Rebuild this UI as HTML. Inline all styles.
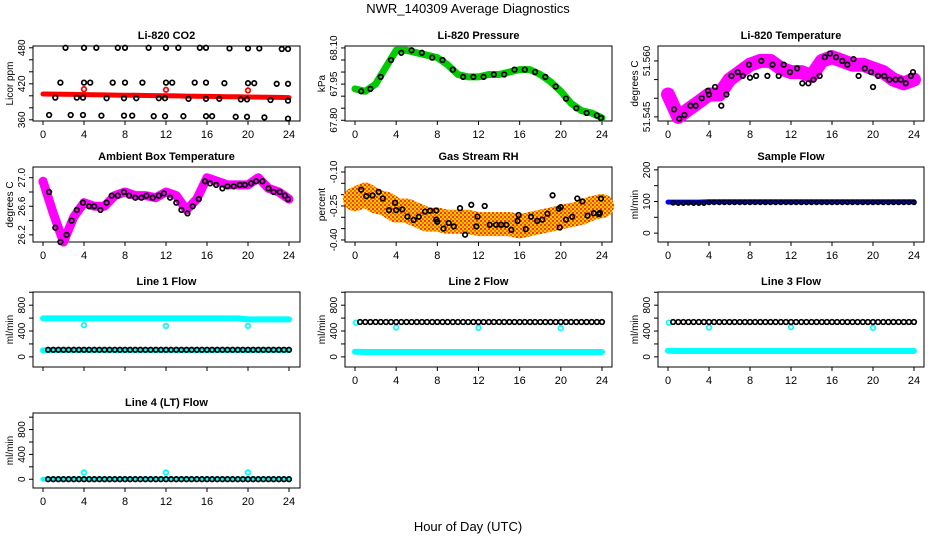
<!DOCTYPE html>
<html><head><meta charset="utf-8"><style>
html,body{margin:0;padding:0;background:#fff}
svg{display:block;font-family:"Liberation Sans",sans-serif}
</style></head><body>
<svg id="c" width="936" height="540" viewBox="0 0 936 540" xmlns="http://www.w3.org/2000/svg">
<defs>
<pattern id="rhpat" width="4" height="4" patternUnits="userSpaceOnUse">
<rect width="4" height="4" fill="#ffcc00"/><rect width="2" height="2" fill="#ff3300"/><rect x="2" y="2" width="2" height="2" fill="#ff6600"/>
</pattern>
</defs>
<text x="468" y="13" text-anchor="middle" font-size="13">NWR_140309  Average Diagnostics</text>
<text x="468" y="531" text-anchor="middle" font-size="13">Hour of Day (UTC)</text>
</svg>
<script>
// ---- data ----
const hours = [0,1,2,3,4,5,6,7,8,9,10,11,12,13,14,15,16,17,18,19,20,21,22,23,24];
const co2Red = [403,402.8,402.5,402.3,402,401.7,401.5,401.2,401,400.8,400.5,400.3,400,399.8,399.5,399.3,399,398.8,398.5,398.3,398,397.8,397.5,397.3,397];
const co2RedOutHours = [4,12,20];
const co2RedOutVals = [411,410,409];
const co2BlackHours = [2.2,4.0,5.2,7.3,8.0,10.3,12.0,13.2,15.3,15.9,18.2,20.0,21.1,23.3,23.9,
 1.7,4.0,4.6,6.8,8.0,9.7,12.0,12.6,14.8,15.9,17.7,20.0,20.6,22.8,23.9,
 1.2,3.3,3.9,6.2,7.9,9.1,11.3,11.9,14.2,15.9,17.2,19.3,19.9,22.2,23.9,
 0.6,2.7,3.9,5.7,7.9,8.7,10.8,11.9,13.7,15.9,16.5,18.8,19.9,21.6,23.9];
const co2BlackVals = [480,480,480,480,480,480,480,480,480,480,479,479,479,478,478,
 422,422,422,422,422,422,422,422,422,422,421,421,421,420,420,
 397,397,397,396,396,396,396,396,395,395,395,394,394,393,392,
 368,368,368,367,367,367,366,366,366,366,366,365,365,364,362];
const presGreen = [67.93,67.92,67.95,68.02,68.09,68.09,68.08,68.07,68.06,68.03,67.99,67.98,67.98,67.99,67.99,68.00,68.01,68.01,67.99,67.96,67.92,67.87,67.84,67.83,67.81];
const presBlackHours = [0.6,1.5,2.5,3.5,4.5,5.5,6.5,7.5,8.5,9.5,10.5,11.5,12.5,13.5,14.5,15.5,16.5,17.5,18.5,19.5,20.5,21.5,22.5,23.5,23.9];
const presBlackVals = [67.92,67.93,67.98,68.05,68.08,68.09,68.08,68.06,68.05,68.01,67.98,67.98,67.98,67.99,67.99,68.01,68.01,68.00,67.98,67.94,67.89,67.85,67.83,67.82,67.81];
const tempMag = [51.551,51.545,51.547,51.549,51.551,51.551,51.555,51.557,51.559,51.560,51.560,51.558,51.557,51.557,51.556,51.560,51.561,51.560,51.559,51.559,51.558,51.557,51.555,51.554,51.555];
const tempBlackHours = [0.6,1.1,1.6,2.2,2.7,3.3,3.9,4.0,4.6,5.2,5.7,6.2,6.8,7.3,7.9,8.0,8.6,9.1,9.7,10.2,10.8,11.3,11.9,12.6,13.1,13.7,14.2,14.8,15.3,15.8,16.4,17.0,17.5,18.1,18.6,19.2,19.8,20.0,20.5,21.1,21.6,22.2,22.7,23.2,23.7,23.9];
const tempBlackVals = [51.547,51.5445,51.5455,51.548,51.548,51.550,51.552,51.551,51.553,51.548,51.551,51.556,51.557,51.556,51.559,51.5555,51.556,51.560,51.556,51.559,51.556,51.559,51.557,51.558,51.554,51.554,51.555,51.556,51.561,51.562,51.561,51.560,51.559,51.5605,51.556,51.558,51.557,51.553,51.556,51.556,51.555,51.555,51.555,51.554,51.556,51.557];
const ambMag = [26.95,26.5,26.1,26.45,26.65,26.6,26.6,26.75,26.8,26.75,26.75,26.72,26.8,26.75,26.55,26.7,27.0,26.95,26.9,26.9,26.9,27.0,26.85,26.8,26.7];
const ambBlackHours = [0.6,1.2,1.7,2.3,2.8,3.3,3.9,4.5,5.0,5.6,6.2,6.7,7.3,7.9,8.4,9.0,9.6,10.1,10.7,11.3,11.8,12.4,13.0,13.5,14.1,14.6,15.2,15.8,16.3,16.9,17.5,18.0,18.6,19.2,19.7,20.3,20.8,21.4,22.0,22.5,23.1,23.6,23.9];
const ambBlackVals = [26.8,26.3,26.1,26.2,26.4,26.55,26.65,26.6,26.6,26.55,26.65,26.75,26.75,26.8,26.75,26.72,26.72,26.75,26.72,26.75,26.78,26.72,26.65,26.55,26.5,26.6,26.7,26.95,26.92,26.9,26.85,26.88,26.88,26.9,26.9,26.92,26.95,26.95,26.85,26.8,26.8,26.75,26.7];
const rhBand = [-0.22,-0.20,-0.23,-0.24,-0.27,-0.27,-0.29,-0.31,-0.31,-0.32,-0.32,-0.32,-0.33,-0.33,-0.33,-0.33,-0.34,-0.33,-0.32,-0.31,-0.30,-0.29,-0.28,-0.26,-0.25];
const rhBlackHours = [0.6,1.1,1.7,2.3,2.7,3.3,3.9,4.0,4.6,5.1,5.7,6.2,6.8,7.3,7.9,7.9,8.0,8.6,9.1,9.6,10.2,10.7,11.3,11.8,11.9,12.6,13.1,13.7,14.2,14.7,15.2,15.8,15.9,16.6,17.1,17.7,18.2,18.7,19.2,19.8,19.9,20.0,20.5,21.1,21.6,22.1,22.6,23.2,23.7,23.9,23.8];
const rhBlackVals = [-0.178,-0.207,-0.204,-0.188,-0.217,-0.268,-0.236,-0.268,-0.265,-0.297,-0.312,-0.298,-0.275,-0.271,-0.27,-0.31,-0.32,-0.35,-0.325,-0.34,-0.26,-0.377,-0.245,-0.34,-0.297,-0.25,-0.333,-0.333,-0.333,-0.333,-0.355,-0.316,-0.29,-0.352,-0.298,-0.316,-0.31,-0.284,-0.203,-0.262,-0.345,-0.255,-0.31,-0.298,-0.217,-0.23,-0.293,-0.282,-0.286,-0.217,-0.28];
const flowHours = [0.5,1,1.5,2,2.5,3,3.5,4,4.5,5,5.5,6,6.5,7,7.5,8,8.5,9,9.5,10,10.5,11,11.5,12,12.5,13,13.5,14,14.5,15,15.5,16,16.5,17,17.5,18,18.5,19,19.5,20,20.5,21,21.5,22,22.5,23,23.5,24];
const sampleBlue = [98,98,98,98,99,99,99,99,99,99,99,99,99,99,99,99,99,99,99,99,99,99,99,99,99];
const sampleBlack = [96,95,95,96,95,95,95,97,97,97,97,97,97,97,97,97,97,97,97,97,97,97,97,97,97,97,97,97,97,97,97,97,97,97,97,97,97,97,97,97,97,97,97,97,97,97,97,97];
const line1Cyan = [595,595,595,595,595,595,595,595,595,595,595,595,595,595,595,595,595,595,595,595,580,580,580,580,580];
const line1CyanLow = [100,105,105,105,105,105,105,105,105,105,105,105,105,105,105,105,105,105,105,105,105,105,105,105,105];
const line1Black = [110,110,110,110,110,110,110,110,110,110,110,110,110,110,110,110,110,110,110,110,110,110,110,110,110,110,110,110,110,110,110,110,110,110,110,110,110,110,110,110,110,110,110,110,110,110,110,110];
const line2Cyan = [80,75,75,75,75,75,75,75,75,75,75,75,75,75,75,75,75,75,75,75,75,75,75,75,75];
const line2Black = [540,540,540,540,540,540,540,540,540,540,540,540,540,540,540,540,540,540,540,540,540,540,540,540,540,540,540,540,540,540,540,540,540,540,540,540,540,540,540,540,540,540,540,540,540,540,540,540];
const line3Cyan = [95,90,90,90,90,90,90,90,90,90,90,90,90,90,90,90,90,90,90,90,90,90,90,90,90];
const line3Black = [540,540,540,540,540,540,540,540,540,540,540,540,540,540,540,540,540,540,540,540,540,540,540,540,540,540,540,540,540,540,540,540,540,540,540,540,540,540,540,540,540,540,540,540,540,540,540,540];
const line4Cyan = [0,0,0,0,0,0,0,0,0,0,0,0,0,0,0,0,0,0,0,0,0,0,0,0,0];
const line4Black = [0,0,0,0,0,0,0,0,0,0,0,0,0,0,0,0,0,0,0,0,0,0,0,0,0,0,0,0,0,0,0,0,0,0,0,0,0,0,0,0,0,0,0,0,0,0,0,0];
const outHours = [4,12,20];
const line1Out = [490,480,480];
const line2Out = [455,450,445];
const line3Out = [455,460,450];
const line4Out = [110,110,110];
const xTicks = [0,4,8,12,16,20,24];

// ---- drawing ----
const NS='http://www.w3.org/2000/svg';
const svg=document.getElementById('c');
const cols=[{l:33,r:300,x0:43,x24:289},{l:345,r:612,x0:355,x24:602},{l:658,r:924,x0:668,x24:914}];
const tops=[46,167,292,413];const PH=75;
function mk(tag,attrs,parent){const e=document.createElementNS(NS,tag);for(const k in attrs)e.setAttribute(k,attrs[k]);(parent||svg).appendChild(e);return e;}
function panel(name,ci,ri,title,ylab,yTop,yBot,ticks,labels,showX){
  const c=cols[ci],t=tops[ri],b=t+PH;
  const g=mk('g',{});
  
  
  const X=h=>c.x0+(c.x24-c.x0)*h/24;
  const Y=v=>t+(yTop-v)/(yTop-yBot)*PH;
  const tt=mk('text',{x:(c.l+c.r)/2,y:t-7,'text-anchor':'middle','font-size':11,'font-weight':'bold'},g);tt.textContent=title;
  
  
  const yl=mk('text',{transform:`translate(${c.l-20},${(t+b)/2}) rotate(-90)`,'text-anchor':'middle','font-size':10},g);yl.textContent=ylab;
  
  
  const yax=mk('g',{},g);
  
  
  const ty=ticks.map(Y);
  mk('line',{x1:c.l,x2:c.l,y1:Math.min(...ty),y2:Math.max(...ty),stroke:'#000'},yax);
  ticks.forEach(v=>mk('line',{x1:c.l-4,x2:c.l,y1:Y(v),y2:Y(v),stroke:'#000'},yax));
  labels.forEach(v=>{const s=(typeof v==='string')?v:String(v);const tx=mk('text',{transform:`translate(${c.l-8},${Y(parseFloat(s))}) rotate(-90)`,'text-anchor':'middle','font-size':10},yax);tx.textContent=s;});
  const xax=mk('g',{},g);
  
  
  mk('line',{x1:X(0),x2:X(24),y1:b,y2:b,stroke:'#000'},xax);
  xTicks.forEach(h=>{mk('line',{x1:X(h),x2:X(h),y1:b,y2:b+4,stroke:'#000'},xax);
    if(showX){const tx=mk('text',{x:X(h),y:b+17,'text-anchor':'middle','font-size':11},xax);tx.textContent=h;}});
  const plot=mk('g',{},g);
  
  
  mk('rect',{x:c.l,y:t,width:c.r-c.l,height:PH,fill:'none',stroke:'#000'},plot);
  return {X,Y,g:plot};
}
function band(p,hs,vs,color,w,name){
  const pts=hs.map((h,i)=>p.X(h).toFixed(1)+','+p.Y(vs[i]).toFixed(1)).join(' ');
  const pl=mk('polyline',{points:pts,fill:'none',stroke:color,'stroke-width':w,'stroke-linejoin':'round','stroke-linecap':'round'},p.g);
  
  
}
function pts(p,hs,vs,color,name,r){
  const g=mk('g',{},p.g);
  
  
  hs.forEach((h,i)=>mk('circle',{cx:p.X(h).toFixed(1),cy:p.Y(vs[i]).toFixed(1),r:r||2.3,fill:'none',stroke:color,'stroke-width':1.7},g));
}
function rng(a,b,s){const o=[];for(let v=a;v<=b+1e-9;v+=s)o.push(+v.toFixed(4));return o;}

let p;
p=panel('co2',0,0,'Li-820 CO2','Licor ppm',483,358,rng(360,480,20),[360,420,480],true);
band(p,hours,co2Red,'#ff0000',5,'co2-red-series');
pts(p,co2RedOutHours,co2RedOutVals,'#ff0000','co2-red-outliers');
pts(p,co2BlackHours,co2BlackVals,'#000','co2-black-series');

p=panel('pressure',1,0,'Li-820 Pressure','kPa',68.108,67.797,rng(67.80,68.10,0.05),['67.80','67.95','68.10'],true);
band(p,hours,presGreen,'#00cc00',7,'pressure-green-series');
pts(p,presBlackHours,presBlackVals,'#000','pressure-black-series');

p=panel('li-temp',2,0,'Li-820 Temperature','degrees C',51.564,51.5439,rng(51.545,51.560,0.005),['51.545','51.560'],true);
band(p,hours,tempMag,'#ff00ff',14,'li-temp-magenta-series');
pts(p,tempBlackHours,tempBlackVals,'#000','li-temp-black-series');

p=panel('ambient',0,1,'Ambient Box Temperature','degrees C',27.15,26.10,rng(26.2,27.0,0.2),['26.2','26.6','27.0'],true);
band(p,hours,ambMag,'#ff00ff',9,'ambient-magenta-series');
pts(p,ambBlackHours,ambBlackVals,'#000','ambient-black-series');

p=panel('rh',1,1,'Gas Stream RH','percent',-0.078,-0.409,rng(-0.40,-0.10,0.05),['-0.40','-0.25','-0.10'],true);
band(p,hours,rhBand,'url(#rhpat)',24,'rh-orange-series');
pts(p,rhBlackHours,rhBlackVals,'#000','rh-black-series');

p=panel('sample-flow',2,1,'Sample Flow','ml/min',209,-28,rng(0,200,50),['0','100','200'],true);
band(p,hours,sampleBlue,'#0000ff',5,'sample-flow-blue-series');
pts(p,flowHours,sampleBlack,'#000','sample-flow-black-series',2);

p=panel('line1',0,2,'Line 1 Flow','ml/min',1004,-157,rng(0,1000,200),['0','400','800'],false);
band(p,hours,line1Cyan,'#00ffff',6,'line1-cyan-high-series');
band(p,hours,line1CyanLow,'#00ffff',6,'line1-cyan-low-series');
pts(p,outHours,line1Out,'#00ffff','line1-cyan-outliers');
pts(p,flowHours,line1Black,'#000','line1-black-series');

p=panel('line2',1,2,'Line 2 Flow','ml/min',1004,-157,rng(0,1000,200),['0','400','800'],true);
band(p,hours,line2Cyan,'#00ffff',6,'line2-cyan-series');
pts(p,[0.1],[530],'#00ffff','line2-cyan-start');
pts(p,outHours,line2Out,'#00ffff','line2-cyan-outliers');
pts(p,flowHours,line2Black,'#000','line2-black-series');

p=panel('line3',2,2,'Line 3 Flow','ml/min',1004,-157,rng(0,1000,200),['0','400','800'],true);
band(p,hours,line3Cyan,'#00ffff',6,'line3-cyan-series');
pts(p,[0.1],[530],'#00ffff','line3-cyan-start');
pts(p,outHours,line3Out,'#00ffff','line3-cyan-outliers');
pts(p,flowHours,line3Black,'#000','line3-black-series');

p=panel('line4',0,3,'Line 4 (LT) Flow','ml/min',1067,-141,rng(0,1000,200),['0','400','800'],true);
band(p,hours,line4Cyan,'#00ffff',5,'line4-cyan-series');
pts(p,outHours,line4Out,'#00ffff','line4-cyan-outliers');
pts(p,flowHours,line4Black,'#000','line4-black-series');
</script>
</body></html>
